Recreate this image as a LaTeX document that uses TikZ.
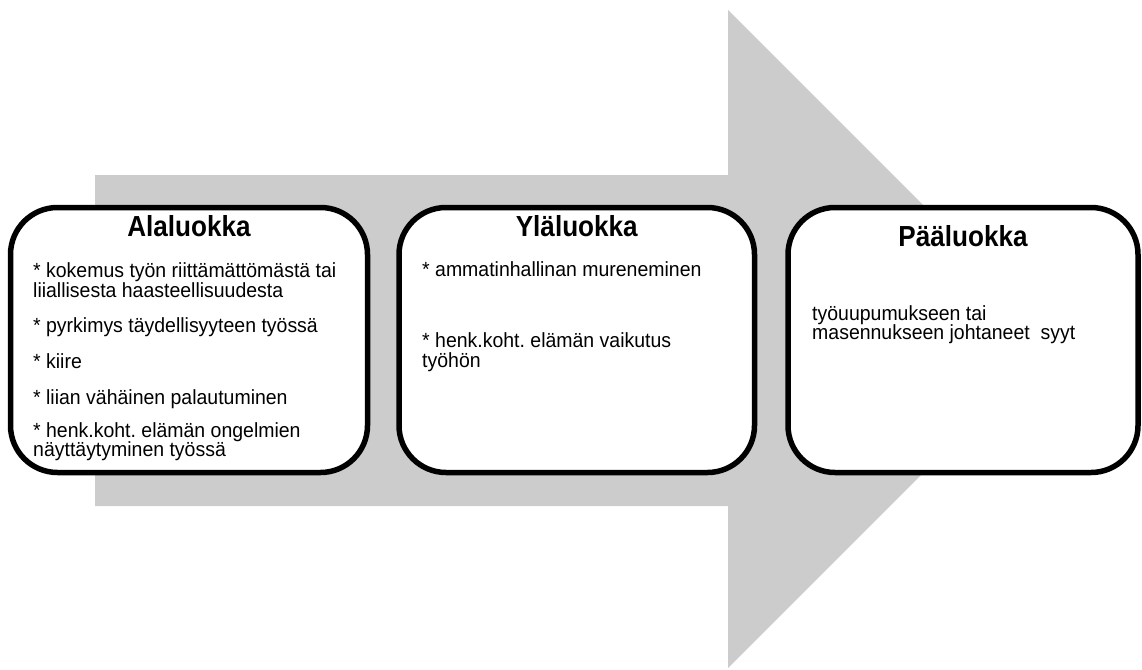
\documentclass[tikz,border=0pt]{standalone}
\usepackage{fontspec}
\setmainfont{Liberation Sans}
\newfontfamily\kapea[FakeStretch=0.9]{Liberation Sans}
\newfontfamily\kapeampi[FakeStretch=0.95]{Liberation Sans}
\usetikzlibrary{positioning}
\definecolor{nuoliharmaa}{HTML}{CCCCCC}
\frenchspacing

\tikzset{
  luokka/.style={draw=black, line width=5.5pt, rounded corners=47pt, fill=white, minimum height=265pt, inner sep=0pt},
  otsikko/.style={font=\kapea\fontsize{29}{32}\selectfont\bfseries, anchor=base, inner sep=0pt},
  rivi/.style={font=\kapeampi\fontsize{20.5}{22}\selectfont, anchor=base west, inner sep=0pt}
}

\begin{document}
\begin{tikzpicture}[x=1pt,y=-1pt]
\useasboundingbox (0,0) rectangle (1142,669);
% harmaa nuoli taustalla
\fill[nuoliharmaa] (95,175) -- (728,175) -- (728,10) -- (1057,339) -- (728,668) -- (728,506) -- (95,506) -- cycle;
% laatikot
\node[luokka, minimum width=357pt] (ala) at (189,340) {};
\node[luokka, minimum width=355.5pt] (yla) at (576.75,340) {};
\node[luokka, minimum width=350pt] (paa) at (963,340) {};
% otsikot
\node[otsikko] (ala-t) at (189,236) {Alaluokka};
\node[otsikko] (yla-t) at (576.75,236) {Yläluokka};
\node[otsikko] (paa-t) at (963,246) {Pääluokka};
% tekstirivit
\foreach \y/\txt [count=\i] in {277/{* kokemus työn riittämättömästä tai},
  297/{liiallisesta haasteellisuudesta},
  332/{* pyrkimys täydellisyyteen työssä},
  368/{* kiire},
  404/{* liian vähäinen palautuminen},
  437/{* henk.koht. elämän ongelmien},
  456/{näyttäytyminen työssä}}
  \node[rivi] (ala-\i) at (33,\y) {\txt};
\foreach \y/\txt [count=\i] in {276/{* ammatinhallinan mureneminen},
  347/{* henk.koht. elämän vaikutus},
  367/{työhön}}
  \node[rivi] (yla-\i) at (422,\y) {\txt};
\foreach \y/\txt [count=\i] in {320/{työuupumukseen tai},
  339/{masennukseen johtaneet\ \ syyt}}
  \node[rivi] (paa-\i) at (812,\y) {\txt};
\end{tikzpicture}
\end{document}
